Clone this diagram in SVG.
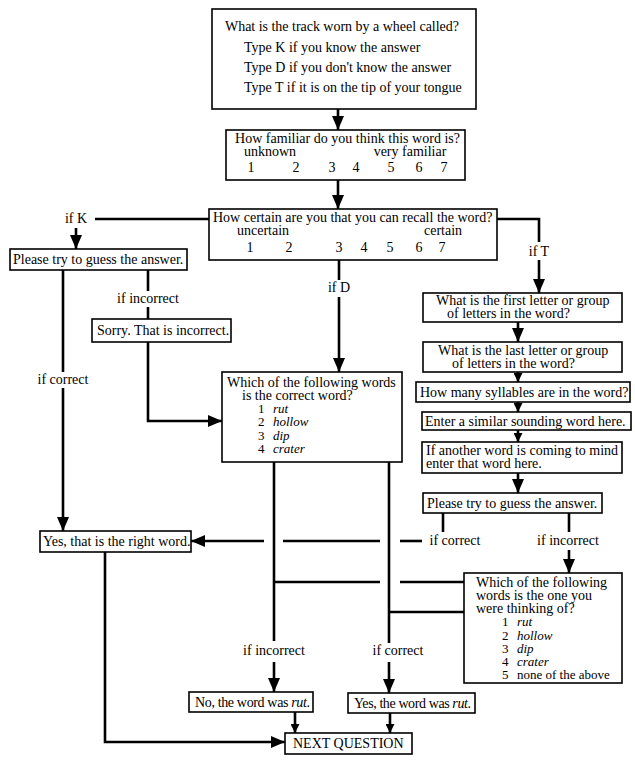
<svg xmlns="http://www.w3.org/2000/svg" width="635" height="760" viewBox="0 0 635 760">
<defs>
<marker id="big" markerUnits="userSpaceOnUse" markerWidth="14" markerHeight="12" refX="14" refY="6" orient="auto"><path d="M0,0 L14,6 L0,12 Z" fill="#000"/></marker>
<marker id="small" markerUnits="userSpaceOnUse" markerWidth="9" markerHeight="9" refX="9" refY="4.5" orient="auto"><path d="M0,0 L9,4.5 L0,9 Z" fill="#000"/></marker>
<style>
text{font-family:"Liberation Serif","Times New Roman",serif;font-size:14px;fill:#000}
.l{font-size:13px}
.c{text-anchor:middle}
.i{font-style:italic}
rect{fill:#fff;stroke:#000;stroke-width:1.6}
#connectors line,#connectors polyline{stroke:#000;stroke-width:2.6;fill:none}
</style>
</defs>
<rect x="0" y="0" width="635" height="760" style="fill:#fff;stroke:none"/>
<g id="connectors">
<line x1="338" y1="109" x2="338" y2="130" marker-end="url(#big)"/>
<line x1="338" y1="180" x2="338" y2="209" marker-end="url(#big)"/>
<line x1="209" y1="219" x2="95" y2="219"/>
<line x1="76" y1="228" x2="76" y2="249" marker-end="url(#big)"/>
<line x1="63" y1="270" x2="63" y2="372"/>
<line x1="63" y1="388" x2="63" y2="531" marker-end="url(#big)"/>
<line x1="148" y1="270" x2="148" y2="291"/>
<line x1="148" y1="307" x2="148" y2="319"/>
<polyline points="148,342 148,421 222,421" marker-end="url(#big)"/>
<line x1="339" y1="260" x2="339" y2="280"/>
<line x1="339" y1="297" x2="339" y2="372" marker-end="url(#big)"/>
<polyline points="497,219 539,219 539,242"/>
<line x1="539" y1="260" x2="539" y2="293" marker-end="url(#big)"/>
<line x1="518" y1="322" x2="518" y2="342" marker-end="url(#big)"/>
<line x1="518" y1="372" x2="518" y2="382" marker-end="url(#small)"/>
<line x1="518" y1="402" x2="518" y2="412" marker-end="url(#small)"/>
<line x1="518" y1="430" x2="518" y2="442" marker-end="url(#small)"/>
<line x1="518" y1="473" x2="518" y2="493" marker-end="url(#big)"/>
<line x1="443" y1="513" x2="443" y2="532"/>
<line x1="569" y1="513" x2="569" y2="532"/>
<line x1="569" y1="550" x2="569" y2="573" marker-end="url(#big)"/>
<line x1="422" y1="541" x2="400" y2="541"/>
<line x1="380" y1="541" x2="283" y2="541"/>
<line x1="264" y1="541" x2="191" y2="541" marker-end="url(#big)"/>
<line x1="464" y1="582" x2="400" y2="582"/>
<line x1="380" y1="582" x2="274" y2="582"/>
<line x1="464" y1="612" x2="389" y2="612"/>
<line x1="274" y1="462" x2="274" y2="641"/>
<line x1="274" y1="662" x2="274" y2="692" marker-end="url(#big)"/>
<line x1="389" y1="462" x2="389" y2="643"/>
<line x1="389" y1="662" x2="389" y2="693" marker-end="url(#big)"/>
<line x1="295" y1="712" x2="295" y2="733" marker-end="url(#small)"/>
<line x1="390" y1="713" x2="390" y2="733" marker-end="url(#small)"/>
<polyline points="105,552 105,742 285,742" marker-end="url(#big)"/>
</g>
<g id="labels">
<text x="76" y="223" class="c">if K</text>
<text x="148" y="303" class="c">if incorrect</text>
<text x="63" y="384" class="c">if correct</text>
<text x="339" y="292" class="c">if D</text>
<text x="539" y="256" class="c">if T</text>
<text x="455" y="545" class="c">if correct</text>
<text x="568" y="545" class="c">if incorrect</text>
<text x="274" y="655" class="c">if incorrect</text>
<text x="398" y="655" class="c">if correct</text>
</g>
<g id="n-track">
<rect x="212" y="9" width="264" height="100"/>
<text x="225" y="31" textLength="234">What is the track worn by a wheel called?</text>
<text x="244" y="52">Type K if you know the answer</text>
<text x="244" y="72">Type D if you don't know the answer</text>
<text x="244" y="92">Type T if it is on the tip of your tongue</text>
</g>
<g id="n-familiar">
<rect x="226" y="130" width="239" height="50"/>
<text x="235" y="143" textLength="225">How familiar do you think this word is?</text>
<text x="270" y="156" class="c">unknown</text>
<text x="410" y="156" class="c">very familiar</text>
<text x="251" y="172" class="c">1</text><text x="296" y="172" class="c">2</text><text x="332" y="172" class="c">3</text><text x="356" y="172" class="c">4</text><text x="391" y="172" class="c">5</text><text x="419" y="172" class="c">6</text><text x="444" y="172" class="c">7</text>
</g>
<g id="n-certain">
<rect x="209" y="209" width="288" height="51"/>
<text x="213" y="222">How certain are you that you can recall the word?</text>
<text x="263" y="235" class="c">uncertain</text>
<text x="443" y="235" class="c">certain</text>
<text x="250" y="252" class="c">1</text><text x="289" y="252" class="c">2</text><text x="339" y="252" class="c">3</text><text x="364" y="252" class="c">4</text><text x="390" y="252" class="c">5</text><text x="419" y="252" class="c">6</text><text x="442" y="252" class="c">7</text>
</g>
<g id="n-guess-left">
<rect x="10" y="249" width="177" height="21"/>
<text x="13" y="264">Please try to guess the answer.</text>
</g>
<g id="n-sorry">
<rect x="92" y="319" width="139" height="23"/>
<text x="97" y="335">Sorry. That is incorrect.</text>
</g>
<g id="n-correct-word">
<rect x="222" y="372" width="180" height="90"/>
<text x="227" y="387">Which of the following words</text>
<text x="242" y="400">is the correct word?</text>
<text x="258" y="413" class="l">1</text><text x="273" y="413" class="i l">rut</text>
<text x="258" y="426" class="l">2</text><text x="273" y="426" class="i l">hollow</text>
<text x="258" y="440" class="l">3</text><text x="273" y="440" class="i l">dip</text>
<text x="258" y="453" class="l">4</text><text x="273" y="453" class="i l">crater</text>
</g>
<g id="n-first">
<rect x="423" y="293" width="199" height="29"/>
<text x="436" y="305">What is the first letter or group</text>
<text x="447" y="318">of letters in the word?</text>
</g>
<g id="n-last">
<rect x="423" y="342" width="199" height="30"/>
<text x="438" y="355">What is the last letter or group</text>
<text x="452" y="368">of letters in the word?</text>
</g>
<g id="n-syll">
<rect x="416" y="382" width="214" height="20"/>
<text x="420" y="397">How many syllables are in the word?</text>
</g>
<g id="n-similar">
<rect x="422" y="412" width="209" height="18"/>
<text x="425" y="426">Enter a similar sounding word here.</text>
</g>
<g id="n-another">
<rect x="422" y="442" width="200" height="31"/>
<text x="426" y="455">If another word is coming to mind</text>
<text x="426" y="468">enter that word here.</text>
</g>
<g id="n-guess-right">
<rect x="423" y="493" width="179" height="20"/>
<text x="427" y="508">Please try to guess the answer.</text>
</g>
<g id="n-right-word">
<rect x="40" y="531" width="151" height="21"/>
<text x="43" y="546">Yes, that is the right word.</text>
</g>
<g id="n-thinking">
<rect x="464" y="573" width="158" height="110"/>
<text x="476" y="587">Which of the following</text>
<text x="476" y="600">words is the one you</text>
<text x="476" y="613">were thinking of?</text>
<text x="502" y="626" class="l">1</text><text x="517" y="626" class="i l">rut</text>
<text x="502" y="640" class="l">2</text><text x="517" y="640" class="i l">hollow</text>
<text x="502" y="653" class="l">3</text><text x="517" y="653" class="i l">dip</text>
<text x="502" y="666" class="l">4</text><text x="517" y="666" class="i l">crater</text>
<text x="502" y="679" class="l">5</text><text x="517" y="679" class="l">none of the above</text>
</g>
<g id="n-no">
<rect x="189" y="692" width="124" height="20"/>
<text x="195" y="707" textLength="115">No, the word was <tspan class="i">rut</tspan>.</text>
</g>
<g id="n-yes">
<rect x="348" y="693" width="127" height="20"/>
<text x="354" y="708" textLength="117">Yes, the word was <tspan class="i">rut</tspan>.</text>
</g>
<g id="n-next">
<rect x="285" y="733" width="127" height="21"/>
<text x="293" y="748">NEXT QUESTION</text>
</g>
</svg>
